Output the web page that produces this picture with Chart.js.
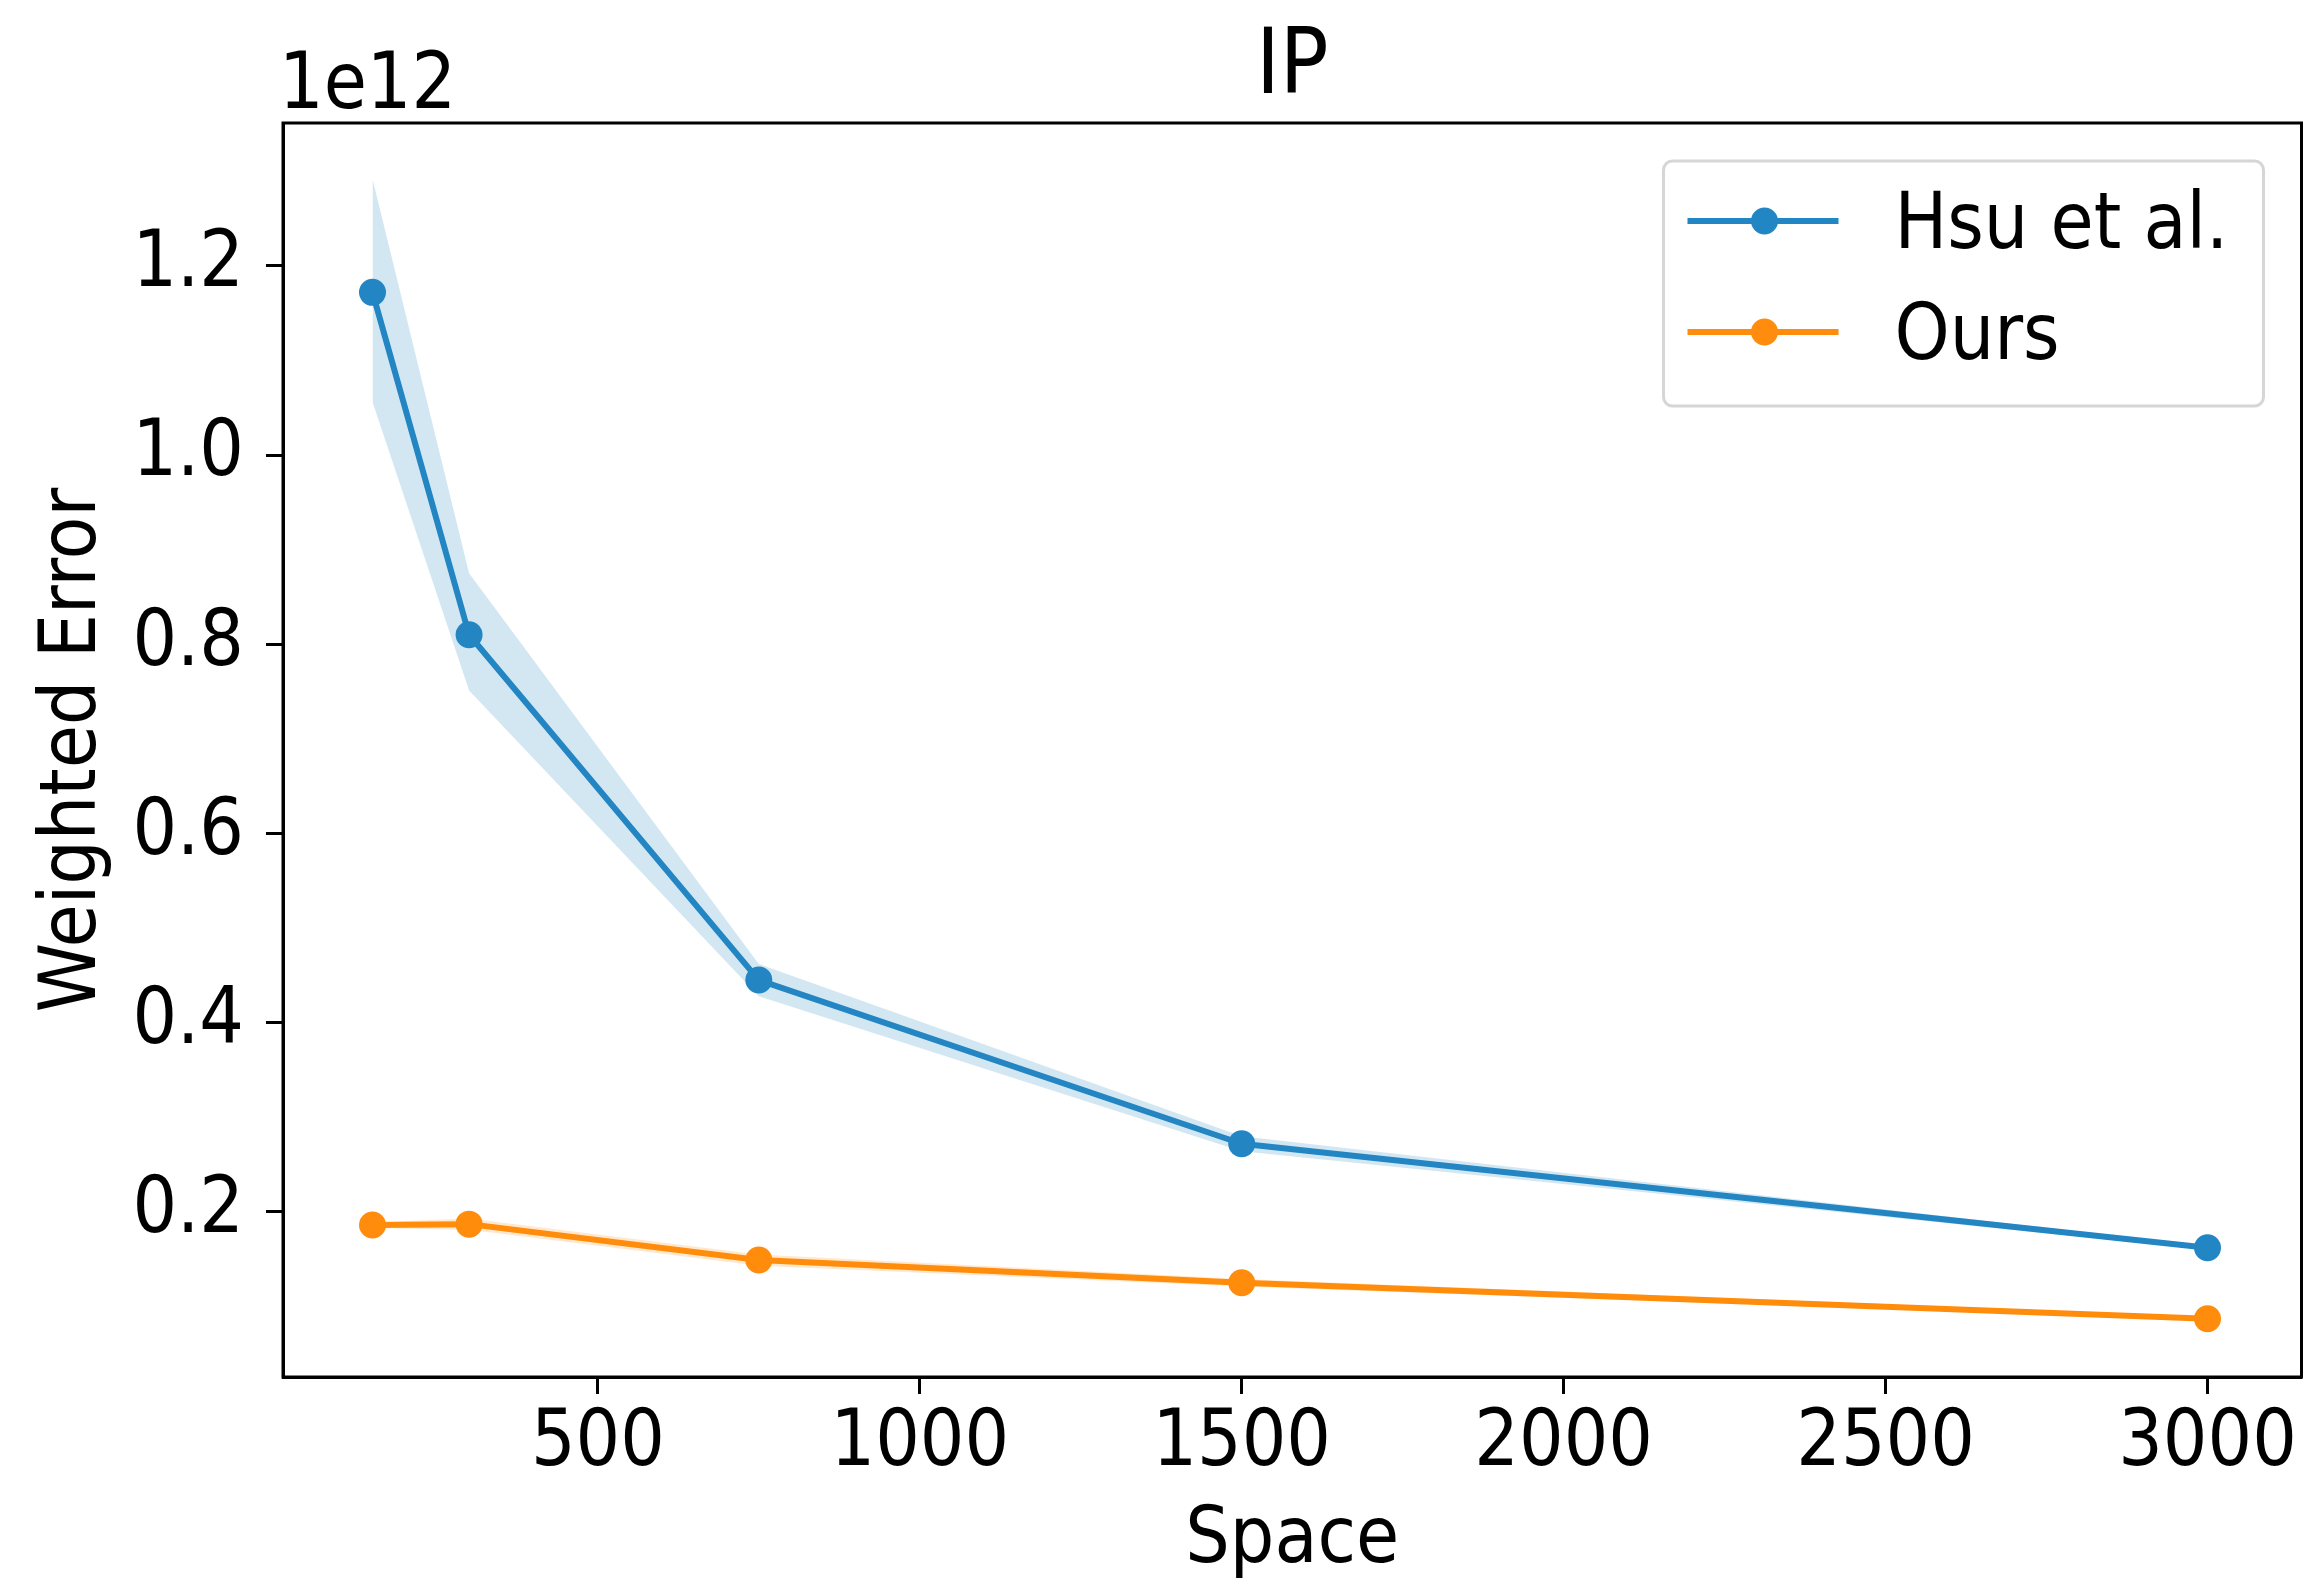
<!DOCTYPE html>
<html>
<head>
<meta charset="utf-8">
<title>IP</title>
<script src="https://cdn.jsdelivr.net/npm/chart.js@4.4.1/dist/chart.umd.min.js"></script>
<style>
  html, body { margin: 0; padding: 0; background: #fff; }
  #wrap { width: 2315px; height: 1583px; }
</style>
</head>
<body>
<div id="wrap"><canvas id="chart1" width="2315" height="1583"></canvas></div>
<script>
// values are in units of 1e12
const spaceVals = [150, 300, 750, 1500, 3000];
const hsuMean  = [1.172, 0.810, 0.445, 0.272, 0.162];
const hsuUpper = [1.292, 0.875, 0.462, 0.280, 0.164];
const hsuLower = [1.056, 0.751, 0.428, 0.264, 0.160];
const oursMean  = [0.186, 0.187, 0.149, 0.125, 0.087];
const oursUpper = [0.189, 0.193, 0.155, 0.129, 0.089];
const oursLower = [0.183, 0.181, 0.143, 0.121, 0.085];
const xTicks = [500, 1000, 1500, 2000, 2500, 3000];
const yTicks = [0.2, 0.4, 0.6, 0.8, 1.0, 1.2];

const blue = 'rgb(35, 134, 196)';
const blueBand = 'rgba(35, 134, 196, 0.2)';
const orange = 'rgb(255, 140, 12)';
const orangeBand = 'rgba(255, 140, 12, 0.2)';
const FONT = "'DejaVu Sans Condensed', 'DejaVu Sans', sans-serif";

const pts = (ys) => spaceVals.map((x, i) => ({x: x, y: ys[i]}));

function band(ys, color, fill) {
  return {
    label: '', data: pts(ys), borderWidth: 0, pointRadius: 0,
    backgroundColor: color, fill: fill, isBand: true
  };
}
function line(label, ys, color) {
  return {
    label: label, data: pts(ys), borderColor: color, backgroundColor: color,
    borderWidth: 6, borderJoinStyle: 'round', fill: false,
    pointRadius: 13.5, pointBorderWidth: 0, pointBackgroundColor: color
  };
}

// frame, offset label and matplotlib-like legend
const extras = {
  id: 'extras',
  afterDraw(chart) {
    const ctx = chart.ctx;
    const a = chart.chartArea;
    ctx.save();
    ctx.strokeStyle = '#000';
    ctx.lineWidth = 3;
    ctx.strokeRect(a.left, a.top, a.right - a.left, a.bottom - a.top);

    ctx.fillStyle = '#000';
    ctx.font = '78px ' + FONT;
    ctx.textBaseline = 'alphabetic';
    ctx.textAlign = 'left';
    ctx.fillText('1e12', a.left - 4, a.top - 15);

    // legend
    const items = chart.data.datasets.filter(d => !d.isBand);
    const bx = a.right - 638, by = a.top + 38, bw = 600, bh = 245;
    ctx.beginPath();
    ctx.roundRect(bx, by, bw, bh, 9);
    ctx.fillStyle = 'rgba(255,255,255,0.8)';
    ctx.fill();
    ctx.strokeStyle = '#d6d6d6';
    ctx.lineWidth = 3;
    ctx.stroke();
    items.forEach((d, i) => {
      const y = by + 60 + i * 111;
      ctx.strokeStyle = d.borderColor;
      ctx.lineWidth = 6;
      ctx.beginPath();
      ctx.moveTo(bx + 24, y);
      ctx.lineTo(bx + 175, y);
      ctx.stroke();
      ctx.fillStyle = d.borderColor;
      ctx.beginPath();
      ctx.arc(bx + 101, y, 13.5, 0, Math.PI * 2);
      ctx.fill();
      ctx.fillStyle = '#000';
      ctx.fillText(d.label, bx + 231, y + 27);
    });
    ctx.restore();
  }
};

Chart.defaults.color = '#000';
Chart.defaults.font.family = FONT;

const ctx = document.getElementById('chart1').getContext('2d');
const chart = new Chart(ctx, {
  type: 'line',
  data: {
    datasets: [
      band(hsuUpper, blueBand, '+1'),
      band(hsuLower, blueBand, false),
      band(oursUpper, orangeBand, '+1'),
      band(oursLower, orangeBand, false),
      line('Hsu et al.', hsuMean, blue),
      line('Ours', oursMean, orange)
    ]
  },
  options: {
    responsive: false,
    animation: false,
    layout: { padding: { left: 0, right: 12, top: 0, bottom: 0 } },
    plugins: {
      legend: { display: false },
      tooltip: { enabled: false },
      title: {
        display: true, text: 'IP', fullSize: false,
        font: { size: 90, weight: 'normal', lineHeight: 1 },
        padding: { top: 25, bottom: 8 }
      }
    },
    scales: {
      x: {
        type: 'linear', min: 11, max: 3146,
        afterBuildTicks: (s) => { s.ticks = xTicks.map(v => ({value: v})); },
        afterFit: (s) => { s.height = 206; },
        grid: { drawOnChartArea: false, drawTicks: true, tickLength: 17, tickWidth: 3, tickColor: '#000' },
        border: { display: true, color: '#000', width: 3 },
        ticks: { font: { size: 78, lineHeight: 1 }, padding: 12, maxRotation: 0, callback: (v) => String(v) },
        title: { display: true, text: 'Space', font: { size: 78, lineHeight: 1 }, padding: { top: 0, bottom: 2 } }
      },
      y: {
        type: 'linear', min: 0.0254, max: 1.351,
        afterBuildTicks: (s) => { s.ticks = yTicks.map(v => ({value: v})); },
        afterFit: (s) => { s.width = 283; },
        grid: { drawOnChartArea: false, drawTicks: true, tickLength: 17, tickWidth: 3, tickColor: '#000' },
        border: { display: true, color: '#000', width: 3 },
        ticks: { font: { size: 78, lineHeight: 1 }, padding: 22, callback: (v) => v.toFixed(1) },
        title: { display: true, text: 'Weighted Error', font: { size: 78, lineHeight: 1 }, padding: { top: 36, bottom: 0 } }
      }
    }
  },
  plugins: [extras]
});
</script>
</body>
</html>
